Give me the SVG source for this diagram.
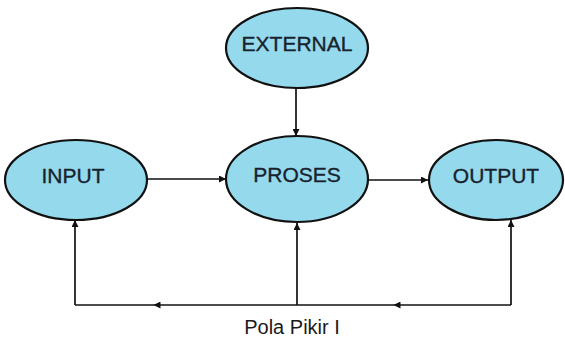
<svg xmlns="http://www.w3.org/2000/svg" width="565" height="340" viewBox="0 0 565 340">
<defs>
<style>
.node ellipse{fill:#95d9ec;stroke:#111111;stroke-width:2.2}
.node text{font-family:"Liberation Sans",Arial,sans-serif;font-size:21px;fill:#18222e;stroke:#18222e;stroke-width:0.35;text-anchor:middle}
.conn{stroke:#111111;stroke-width:1.7;fill:none}
.cap{font-family:"Liberation Sans",Arial,sans-serif;font-size:20px;fill:#1a1a1a;text-anchor:middle}
</style>
<marker id="arr" viewBox="0 0 10 10" refX="10" refY="5" markerWidth="8" markerHeight="7" markerUnits="userSpaceOnUse" orient="auto">
<path d="M0,0 L10,5 L0,10 z" fill="#111111"/>
</marker>
<marker id="arrm" viewBox="0 0 10 10" refX="5" refY="5" markerWidth="8" markerHeight="7" markerUnits="userSpaceOnUse" orient="auto">
<path d="M0,0 L10,5 L0,10 z" fill="#111111"/>
</marker>
</defs>
<rect width="565" height="340" fill="#ffffff"/>
<g id="connectors">
<path class="conn" d="M296,88 V136" marker-end="url(#arr)"/>
<path class="conn" d="M148,179 H226" marker-end="url(#arr)"/>
<path class="conn" d="M366,180 H428" marker-end="url(#arr)"/>
<path class="conn" d="M297,305 V223" marker-end="url(#arr)"/>
<path class="conn" d="M75,305 V220" marker-end="url(#arr)"/>
<path class="conn" d="M511,305 V220" marker-end="url(#arr)"/>
<path class="conn" d="M297,305 H157" marker-end="url(#arrm)"/>
<path class="conn" d="M157,305 H75"/>
<path class="conn" d="M511,305 H397" marker-end="url(#arrm)"/>
<path class="conn" d="M397,305 H297"/>
</g>
<g id="external" class="node">
<ellipse cx="297" cy="48" rx="71" ry="40"/>
<text x="297" y="51">EXTERNAL</text>
</g>
<g id="input" class="node">
<ellipse cx="76" cy="180" rx="71" ry="40"/>
<text x="73" y="183">INPUT</text>
</g>
<g id="proses" class="node">
<ellipse cx="297" cy="179" rx="71" ry="43"/>
<text x="297" y="182">PROSES</text>
</g>
<g id="output" class="node">
<ellipse cx="496" cy="180" rx="67" ry="40"/>
<text x="496" y="183">OUTPUT</text>
</g>
<text class="cap" x="292" y="334">Pola Pikir I</text>
</svg>
